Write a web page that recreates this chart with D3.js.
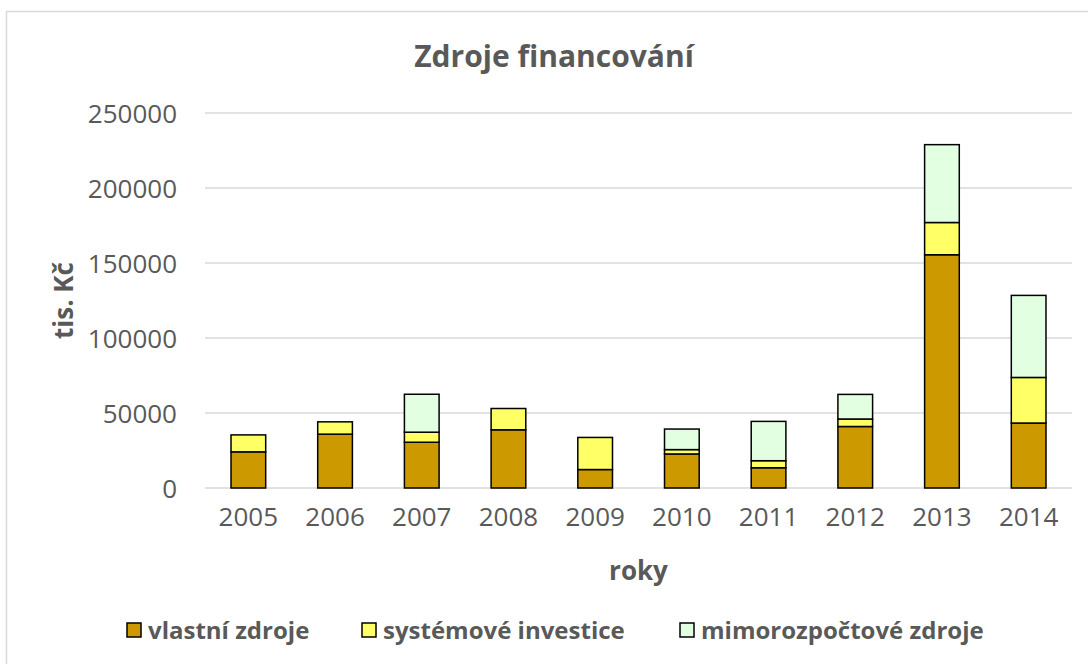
<!DOCTYPE html>
<html>
<head>
<meta charset="utf-8">
<script src="https://cdn.jsdelivr.net/npm/d3@7"></script>
<style>
  body { margin: 0; background: #fff; }
  svg { font-family: "Open Sans", "Noto Sans", sans-serif; }
  .axis text { fill: #595959; font-size: 26px; font-family: "Open Sans", "Noto Sans", sans-serif; }
</style>
</head>
<body>
<svg id="chart" width="1088" height="664"></svg>
<script>
var years = ["2005", "2006", "2007", "2008", "2009", "2010", "2011", "2012", "2013", "2014"];
var vlastni = [24100, 35900, 30500, 38800, 12300, 22700, 13500, 41000, 155500, 43300];
var systemove = [11300, 8200, 6700, 14200, 21400, 2900, 4700, 5000, 21500, 30400];
var mimorozpoctove = [0, 0, 25300, 0, 0, 13700, 26200, 16400, 51900, 54700];
var seriesNames = ["vlastní zdroje", "systémové investice", "mimorozpočtové zdroje"];
var colors = ["#CC9900", "#FFFF66", "#E2FFE2"];
var yTicks = [0, 50000, 100000, 150000, 200000, 250000];

var svg = d3.select("#chart");

// outer chart border (right and bottom run off the picture)
svg.append("path")
  .attr("d", "M6.5,1000 V11.5 H1200")
  .style("fill", "none")
  .style("stroke", "#d9d9d9")
  .style("stroke-width", "1.5px");

var plotLeft = 205, plotRight = 1072, plotTop = 113, plotBottom = 488;

var x = d3.scaleBand()
  .domain(years)
  .range([plotLeft, plotRight])
  .paddingInner(0.6)
  .paddingOuter(0.3);

var y = d3.scaleLinear()
  .domain([0, 250000])
  .range([plotBottom, plotTop]);

// gridlines
svg.append("g")
  .selectAll("line")
  .data(yTicks)
  .enter().append("line")
  .attr("x1", plotLeft).attr("x2", plotRight)
  .attr("y1", function (d) { return y(d); })
  .attr("y2", function (d) { return y(d); })
  .style("stroke", "#d9d9d9")
  .style("stroke-width", "1.5px");

var yAxis = d3.axisLeft(y).tickValues(yTicks).tickSize(0).tickPadding(28)
  .tickFormat(d3.format("d"));
svg.append("g")
  .attr("class", "axis")
  .attr("transform", "translate(" + plotLeft + ",0)")
  .call(yAxis)
  .call(function (g) { g.select(".domain").remove(); })
  .selectAll("text").attr("dy", "0.36em");

var xAxis = d3.axisBottom(x).tickSize(0).tickPadding(20);
svg.append("g")
  .attr("class", "axis")
  .attr("transform", "translate(0," + plotBottom + ")")
  .call(xAxis)
  .call(function (g) { g.select(".domain").remove(); });

// stacked bars
var table = years.map(function (yr, i) {
  return { year: yr, v0: vlastni[i], v1: systemove[i], v2: mimorozpoctove[i] };
});
var stack = d3.stack().keys(["v0", "v1", "v2"]);
var layers = stack(table);

svg.append("g")
  .selectAll("g")
  .data(layers)
  .enter().append("g")
  .style("fill", function (d, i) { return colors[i]; })
  .selectAll("rect")
  .data(function (d) { return d.filter(function (p) { return p[1] - p[0] > 0; }); })
  .enter().append("rect")
  .attr("x", function (d) { return x(d.data.year); })
  .attr("width", x.bandwidth())
  .attr("y", function (d) { return y(d[1]); })
  .attr("height", function (d) { return y(d[0]) - y(d[1]); })
  .style("stroke", "#000")
  .style("stroke-width", "1.5px");

// titles
svg.append("text")
  .attr("x", 554).attr("y", 67)
  .attr("text-anchor", "middle")
  .style("font-size", "30px").style("font-weight", "bold").style("fill", "#595959")
  .text("Zdroje financování");

svg.append("text")
  .attr("x", (plotLeft + plotRight) / 2).attr("y", 580)
  .attr("text-anchor", "middle")
  .style("font-size", "26px").style("font-weight", "bold").style("fill", "#595959")
  .text("roky");

svg.append("text")
  .attr("transform", "translate(73," + (plotTop + plotBottom) / 2 + ") rotate(-90)")
  .attr("text-anchor", "middle")
  .style("font-size", "26px").style("font-weight", "bold").style("fill", "#595959")
  .text("tis. Kč");

// legend
var legendX = [127, 362, 680];
var legend = svg.append("g")
  .selectAll("g")
  .data(seriesNames)
  .enter().append("g")
  .attr("transform", function (d, i) { return "translate(" + legendX[i] + ",623)"; });

legend.append("rect")
  .attr("width", 14).attr("height", 14)
  .style("fill", function (d, i) { return colors[i]; })
  .style("stroke", "#000")
  .style("stroke-width", "1.5px");

legend.append("text")
  .attr("x", 21).attr("y", 16)
  .style("font-size", "24px").style("font-weight", "bold").style("fill", "#595959")
  .text(function (d) { return d; });
</script>
</body>
</html>
